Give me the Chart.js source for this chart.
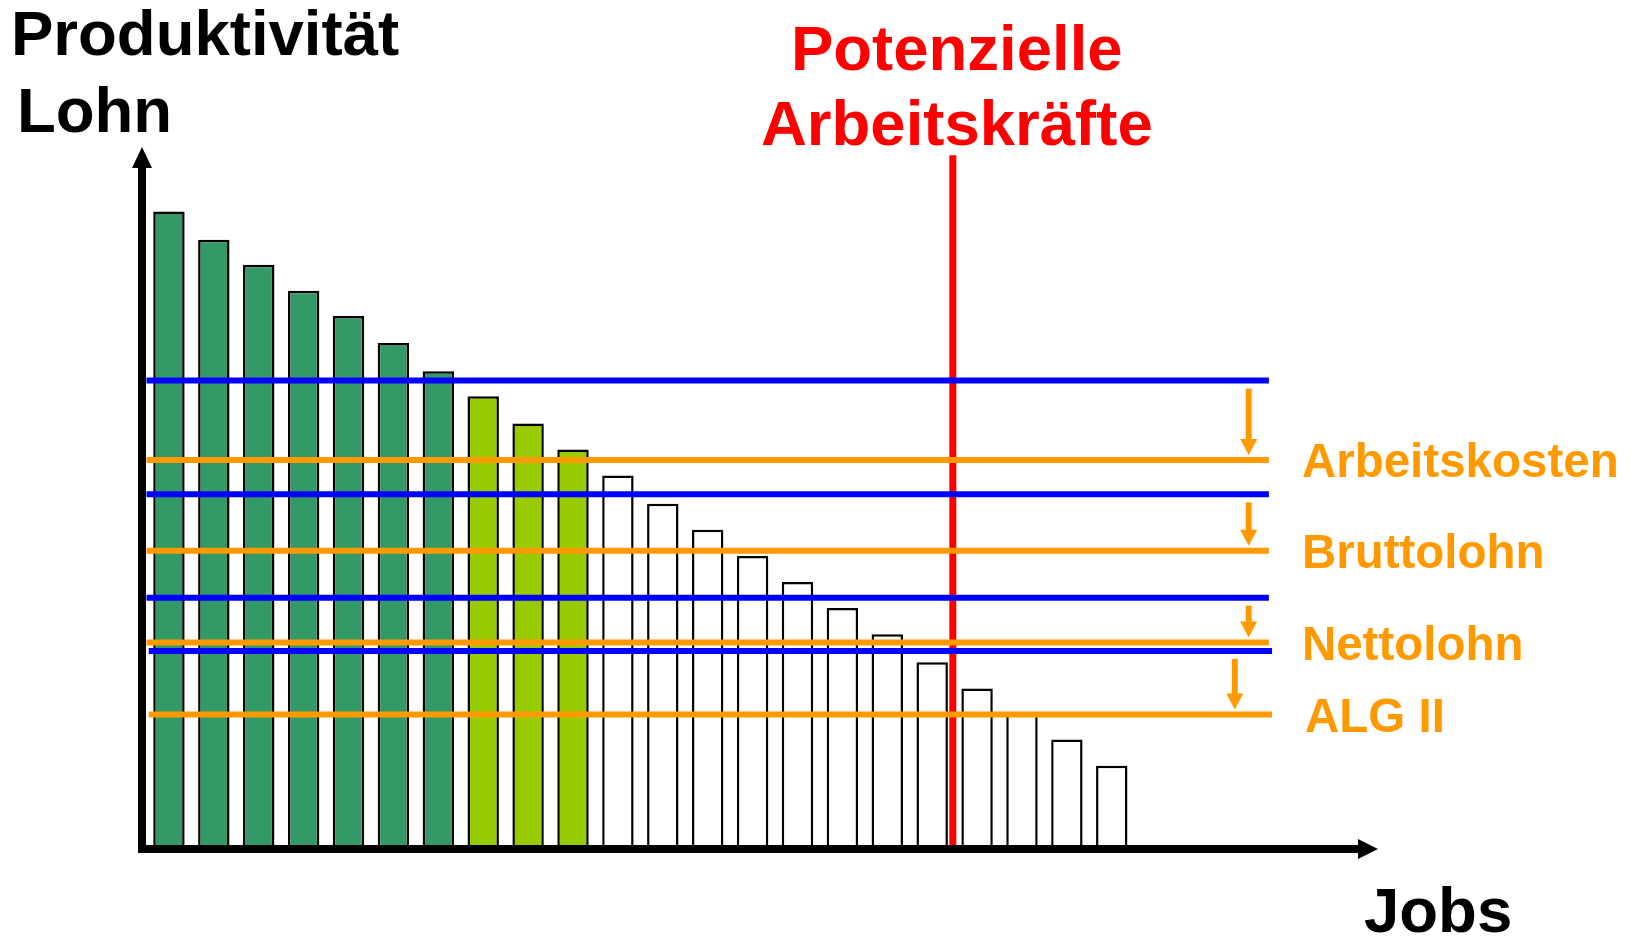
<!DOCTYPE html>
<html lang="de">
<head>
<meta charset="utf-8">
<title>Produktivität und Lohn</title>
<script src="https://cdn.jsdelivr.net/npm/chart.js@4.4.1/dist/chart.umd.min.js"></script>
<style>
    html, body { margin: 0; padding: 0; background: #fff; }
    #wrap { width: 1637px; height: 937px; position: relative; }
</style>
</head>
<body>
<div id="wrap"><canvas id="chart"></canvas></div>
<script>
// Produktivität je Job (von links nach rechts absteigend)
const produktivitaet = [60.7, 58.0, 55.6, 53.1, 50.7, 48.1, 45.4, 43.0, 40.4, 37.9, 35.4,
    32.7, 30.2, 27.7, 25.2, 22.7, 20.2, 17.5, 15.0, 12.5, 10.1, 7.6];
const besetzteJobs = 7;   // dunkelgrün
const neueJobs = 3;       // hellgrün, danach leer

// Lohnstufen: vorher (blau) und nachher (orange)
const stufenNamen = ['Arbeitskosten', 'Bruttolohn', 'Nettolohn', 'ALG II'];
const stufenVorher = [44.5, 33.6, 23.7, 18.6];
const stufenNachher = [36.9, 28.2, 19.4, 12.5];

// Grenze der potenziellen Arbeitskräfte (Jobposition)
const potenzielleGrenze = 18.46;

const ORANGE = '#FF9900';
const BLAU = '#0000FF';
const ROT = '#FF0000';
const FONT = '"Liberation Sans", Arial, sans-serif';

// x-Ausdehnung der Linien und Lage der Pfeile (in Job-Einheiten)
const linieStart = [0.5, 0.5, 0.5, 0.55];
const linieEnde = [25.5, 25.5, 25.5, 25.57];
const pfeilX = [25.05, 25.05, 25.05, 24.74];

const balken = produktivitaet.map((v, i) => ({ x: i + 1, y: v }));
const balkenFarben = produktivitaet.map((_, i) =>
    i < besetzteJobs ? '#339966' : (i < besetzteJobs + neueJobs ? '#99CC00' : '#FFFFFF'));

const datasets = [{
    type: 'bar',
    data: balken,
    backgroundColor: balkenFarben,
    borderColor: '#000',
    borderWidth: 2.5,
    barPercentage: 0.7,
    categoryPercentage: 1.0,
    order: 3
}, {
    type: 'line',
    data: [{ x: potenzielleGrenze, y: 0 }, { x: potenzielleGrenze, y: 66.1 }],
    borderColor: ROT,
    borderWidth: 7,
    pointRadius: 0,
    order: 2
}];

stufenNamen.forEach((name, i) => {
    datasets.push({
        type: 'line',
        data: [{ x: linieStart[i], y: stufenVorher[i] }, { x: linieEnde[i], y: stufenVorher[i] }],
        borderColor: BLAU, borderWidth: 6, pointRadius: 0, order: 1
    });
    datasets.push({
        type: 'line',
        data: [{ x: linieStart[i], y: stufenNachher[i] }, { x: linieEnde[i], y: stufenNachher[i] }],
        borderColor: ORANGE, borderWidth: 6, pointRadius: 0, order: 1
    });
});

// Achsen mit Pfeilen, Abwärtspfeile, Beschriftungen
const zeichnung = {
    id: 'zeichnung',
    afterDraw(chart) {
        const ctx = chart.ctx;
        const area = chart.chartArea;
        const xs = chart.scales.x, ys = chart.scales.y;
        ctx.save();

        // y-Achse
        ctx.fillStyle = '#000';
        ctx.fillRect(area.left - 4, 165, 8, area.bottom + 8 - 165);
        ctx.beginPath();
        ctx.moveTo(area.left, 147);
        ctx.lineTo(area.left - 10, 168);
        ctx.lineTo(area.left + 10, 168);
        ctx.closePath();
        ctx.fill();

        // x-Achse
        const ax = area.bottom + 4;
        ctx.fillRect(area.left - 4, ax - 4, area.right - 20 - area.left + 4, 8);
        ctx.beginPath();
        ctx.moveTo(area.right, ax);
        ctx.lineTo(area.right - 20, ax - 10);
        ctx.lineTo(area.right - 20, ax + 10);
        ctx.closePath();
        ctx.fill();

        // orange Pfeile von blau nach orange
        ctx.fillStyle = ORANGE;
        stufenNamen.forEach((name, i) => {
            const px = xs.getPixelForValue(pfeilX[i]);
            const y0 = ys.getPixelForValue(stufenVorher[i]) + 8;
            const y1 = ys.getPixelForValue(stufenNachher[i]) - 5;
            ctx.fillRect(px - 3, y0, 6, y1 - 14 - y0);
            ctx.beginPath();
            ctx.moveTo(px, y1);
            ctx.lineTo(px - 8.5, y1 - 16);
            ctx.lineTo(px + 8.5, y1 - 16);
            ctx.closePath();
            ctx.fill();

            ctx.font = 'bold 47.5px ' + FONT;
            ctx.textAlign = 'left';
            ctx.textBaseline = 'alphabetic';
            ctx.fillText(name, xs.getPixelForValue(linieEnde[i]) + 33,
                ys.getPixelForValue(stufenNachher[i]) + 17);
        });

        // Titel
        ctx.fillStyle = '#000';
        ctx.font = 'bold 63.5px ' + FONT;
        ctx.textAlign = 'left';
        ctx.fillText('Produktivität', 11, 55);
        ctx.fillText('Lohn', 17, 132);
        ctx.fillText('Jobs', 1364, 932);

        ctx.fillStyle = ROT;
        ctx.textAlign = 'center';
        const rx = xs.getPixelForValue(potenzielleGrenze) + 4;
        ctx.fillText('Potenzielle', rx, 70);
        ctx.fillText('Arbeitskräfte', rx, 145);
        ctx.restore();
    }
};

new Chart(document.getElementById('chart'), {
    data: { datasets: datasets },
    options: {
        responsive: true,
        maintainAspectRatio: false,
        animation: false,
        layout: { padding: { left: 142, right: 259, top: 151, bottom: 92 } },
        plugins: { legend: { display: false }, tooltip: { enabled: false } },
        scales: {
            x: { type: 'linear', min: 0.4, max: 27.93, offset: false, display: false },
            y: { min: 0, max: 66.5, display: false }
        }
    },
    plugins: [zeichnung]
});
</script>
</body>
</html>
